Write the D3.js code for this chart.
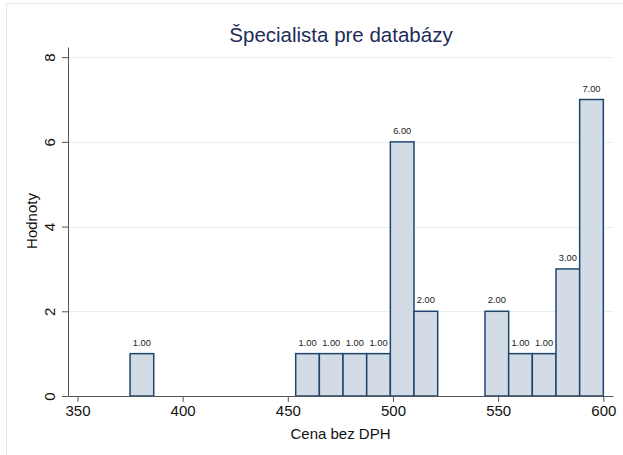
<!DOCTYPE html>
<html>
<head>
<meta charset="utf-8">
<script src="https://cdn.jsdelivr.net/npm/d3@7"></script>
<style>
  html, body { margin: 0; padding: 0; background: #fff; }
  svg { display: block; font-family: "Liberation Sans", Arial, Helvetica, sans-serif; }
</style>
</head>
<body>
<svg id="chart" width="623" height="455"></svg>
<script>
const titleText = "Špecialista pre databázy";
const xTitle = "Cena bez DPH";
const yTitle = "Hodnoty";
const binWidth = 11.25;
const binStarts = [375, 453.75, 465, 476.25, 487.5, 498.75, 510, 543.75, 555, 566.25, 577.5, 588.75];
const counts = [1, 1, 1, 1, 1, 6, 2, 2, 1, 1, 3, 7];
const xTicks = [350, 400, 450, 500, 550, 600];
const yTicks = [0, 2, 4, 6, 8];

const svg = d3.select("#chart");

// outer light frame
svg.append("rect")
  .attr("x", 6.5).attr("y", 3.5).attr("width", 640).attr("height", 470)
  .attr("fill", "none").attr("stroke", "#e2eaee").attr("stroke-width", 1);

const x = d3.scaleLinear().domain([345.5, 604.6]).range([68, 613]);
const y = d3.scaleLinear().domain([0, 8.24]).range([396, 47]);

// gridlines
svg.append("g").selectAll("line")
  .data(yTicks.filter(d => d > 0))
  .join("line")
  .attr("x1", 68).attr("x2", 613)
  .attr("y1", d => Math.round(y(d)) + 0.5).attr("y2", d => Math.round(y(d)) + 0.5)
  .attr("stroke", "#e6f0f2").attr("stroke-width", 1);

// bars
const data = binStarts.map((s, i) => ({ s, c: counts[i] }));
svg.append("g").selectAll("rect")
  .data(data)
  .join("rect")
  .attr("x", d => x(d.s))
  .attr("y", d => y(d.c))
  .attr("width", d => x(d.s + binWidth) - x(d.s))
  .attr("height", d => y(0) - y(d.c))
  .attr("fill", "#d3dce5")
  .attr("stroke", "#1d466e")
  .attr("stroke-width", 1.5);

// value labels
svg.append("g").selectAll("text")
  .data(data)
  .join("text")
  .attr("x", d => x(d.s + binWidth / 2))
  .attr("y", d => y(d.c) - 8)
  .attr("text-anchor", "middle")
  .attr("font-size", 9.3)
  .attr("fill", "#222")
  .text(d => d.c.toFixed(2));

// x axis
const xAxis = svg.append("g")
  .attr("transform", "translate(0,396)")
  .call(d3.axisBottom(x).tickValues(xTicks).tickSize(6).tickPadding(3).tickSizeOuter(0));
xAxis.select(".domain").attr("stroke", "#555");
xAxis.selectAll(".tick line").attr("stroke", "#555");
xAxis.selectAll(".tick text").attr("font-size", 15).attr("fill", "#111")
  .attr("font-family", "'Liberation Sans', Arial, sans-serif");

// y axis
const yAxis = svg.append("g")
  .attr("transform", "translate(68,0)")
  .call(d3.axisLeft(y).tickValues(yTicks).tickSize(6).tickPadding(3).tickSizeOuter(0));
yAxis.select(".domain").attr("stroke", "#555");
yAxis.selectAll(".tick line").attr("stroke", "#555");
yAxis.selectAll(".tick text")
  .attr("font-size", 15).attr("fill", "#111")
  .attr("font-family", "'Liberation Sans', Arial, sans-serif")
  .attr("x", null).attr("dy", null)
  .attr("transform", "translate(-19,0) rotate(-90)")
  .attr("text-anchor", "middle")
  .attr("dominant-baseline", "central");

// titles
svg.append("text")
  .attr("x", 341).attr("y", 42)
  .attr("text-anchor", "middle")
  .attr("font-size", 20.5)
  .attr("fill", "#1e2c58")
  .text(titleText);

svg.append("text")
  .attr("x", 340.5).attr("y", 439)
  .attr("text-anchor", "middle")
  .attr("font-size", 15)
  .attr("fill", "#111")
  .text(xTitle);

svg.append("text")
  .attr("transform", "translate(37,221) rotate(-90)")
  .attr("text-anchor", "middle")
  .attr("font-size", 15)
  .attr("fill", "#111")
  .text(yTitle);
</script>
</body>
</html>
